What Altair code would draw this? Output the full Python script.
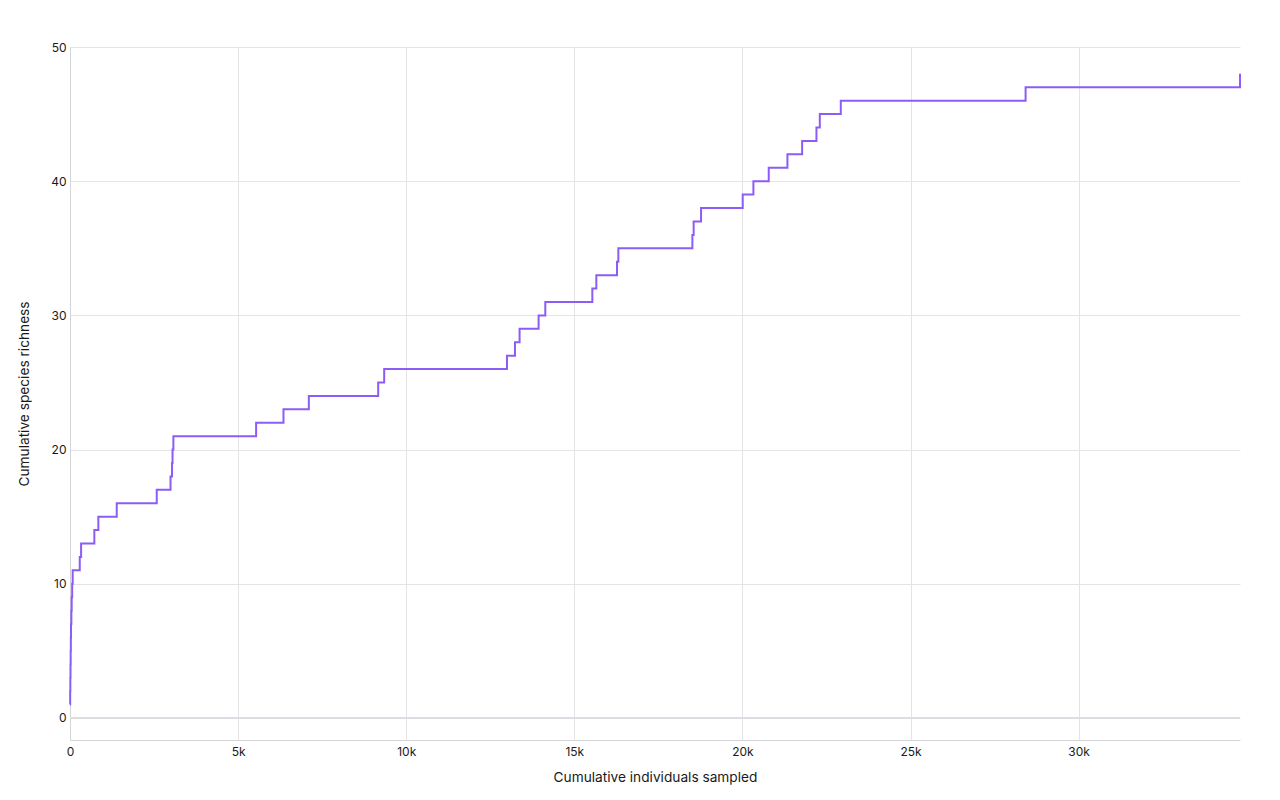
import altair as alt
import pandas as pd

individuals = [0, 5, 10, 15, 20, 25, 30, 40, 50, 65, 80, 290, 330, 724, 843, 1390,
               2580, 2990, 3035, 3050, 3075, 5536, 6350, 7104, 9167, 9345, 12997,
               13235, 13372, 13938, 14137, 15536, 15655, 16270, 16310, 18512, 18550,
               18770, 20009, 20327, 20783, 21339, 21776, 22202, 22302, 22926, 28423,
               34800]
richness = [1, 2, 3, 4, 5, 6, 7, 8, 9, 10, 11, 12, 13, 14, 15, 16, 17, 18, 19, 20,
            21, 22, 23, 24, 25, 26, 27, 28, 29, 30, 31, 32, 33, 34, 35, 36, 37, 38,
            39, 40, 41, 42, 43, 44, 45, 46, 47, 48]
x_ticks = [0, 5000, 10000, 15000, 20000, 25000, 30000]
y_ticks = [0, 10, 20, 30, 40, 50]

df = pd.DataFrame({"individuals": individuals, "richness": richness})
zero = pd.DataFrame({"y": [0]})

FONT = "Inter"

x_enc = alt.X("individuals:Q", title="Cumulative individuals sampled",
              scale=alt.Scale(domain=[0, 34800], nice=False, zero=False),
              axis=alt.Axis(values=x_ticks, labelFlush=False,
                            labelExpr="datum.value == 0 ? '0' : (datum.value / 1000) + 'k'"))
y_scale = alt.Scale(domain=[-1.64, 50], nice=False, zero=False)

line = alt.Chart(df).mark_line(interpolate="step-after", color="#8b5cf6", strokeWidth=2).encode(
    x=x_enc,
    y=alt.Y("richness:Q", title="Cumulative species richness", scale=y_scale,
            axis=alt.Axis(values=y_ticks, labelFlush=False, labelPadding=4, titlePadding=19)),
)

rule = alt.Chart(zero).mark_rule(color="#dcdce2", strokeWidth=2).encode(
    y=alt.Y("y:Q", scale=y_scale)
)

chart = alt.layer(rule, line).properties(
    width=1170, height=693,
    autosize=alt.AutoSizeParams(type="none"),
    padding={"left": 70, "top": 47, "right": 40, "bottom": 60},
).configure_view(stroke=None).configure_axis(
    labelFont=FONT, titleFont=FONT, labelFontSize=12, titleFontSize=13.7,
    labelColor="#1a1a1a", titleColor="#1a1a1a", titleFontWeight="normal",
    gridColor="#e4e4e7", domainColor="#d4d4d8", ticks=False, labelPadding=6,
).configure_axisX(titlePadding=13)

chart.save("out.html", embed_options={"renderer": "svg", "actions": False})
